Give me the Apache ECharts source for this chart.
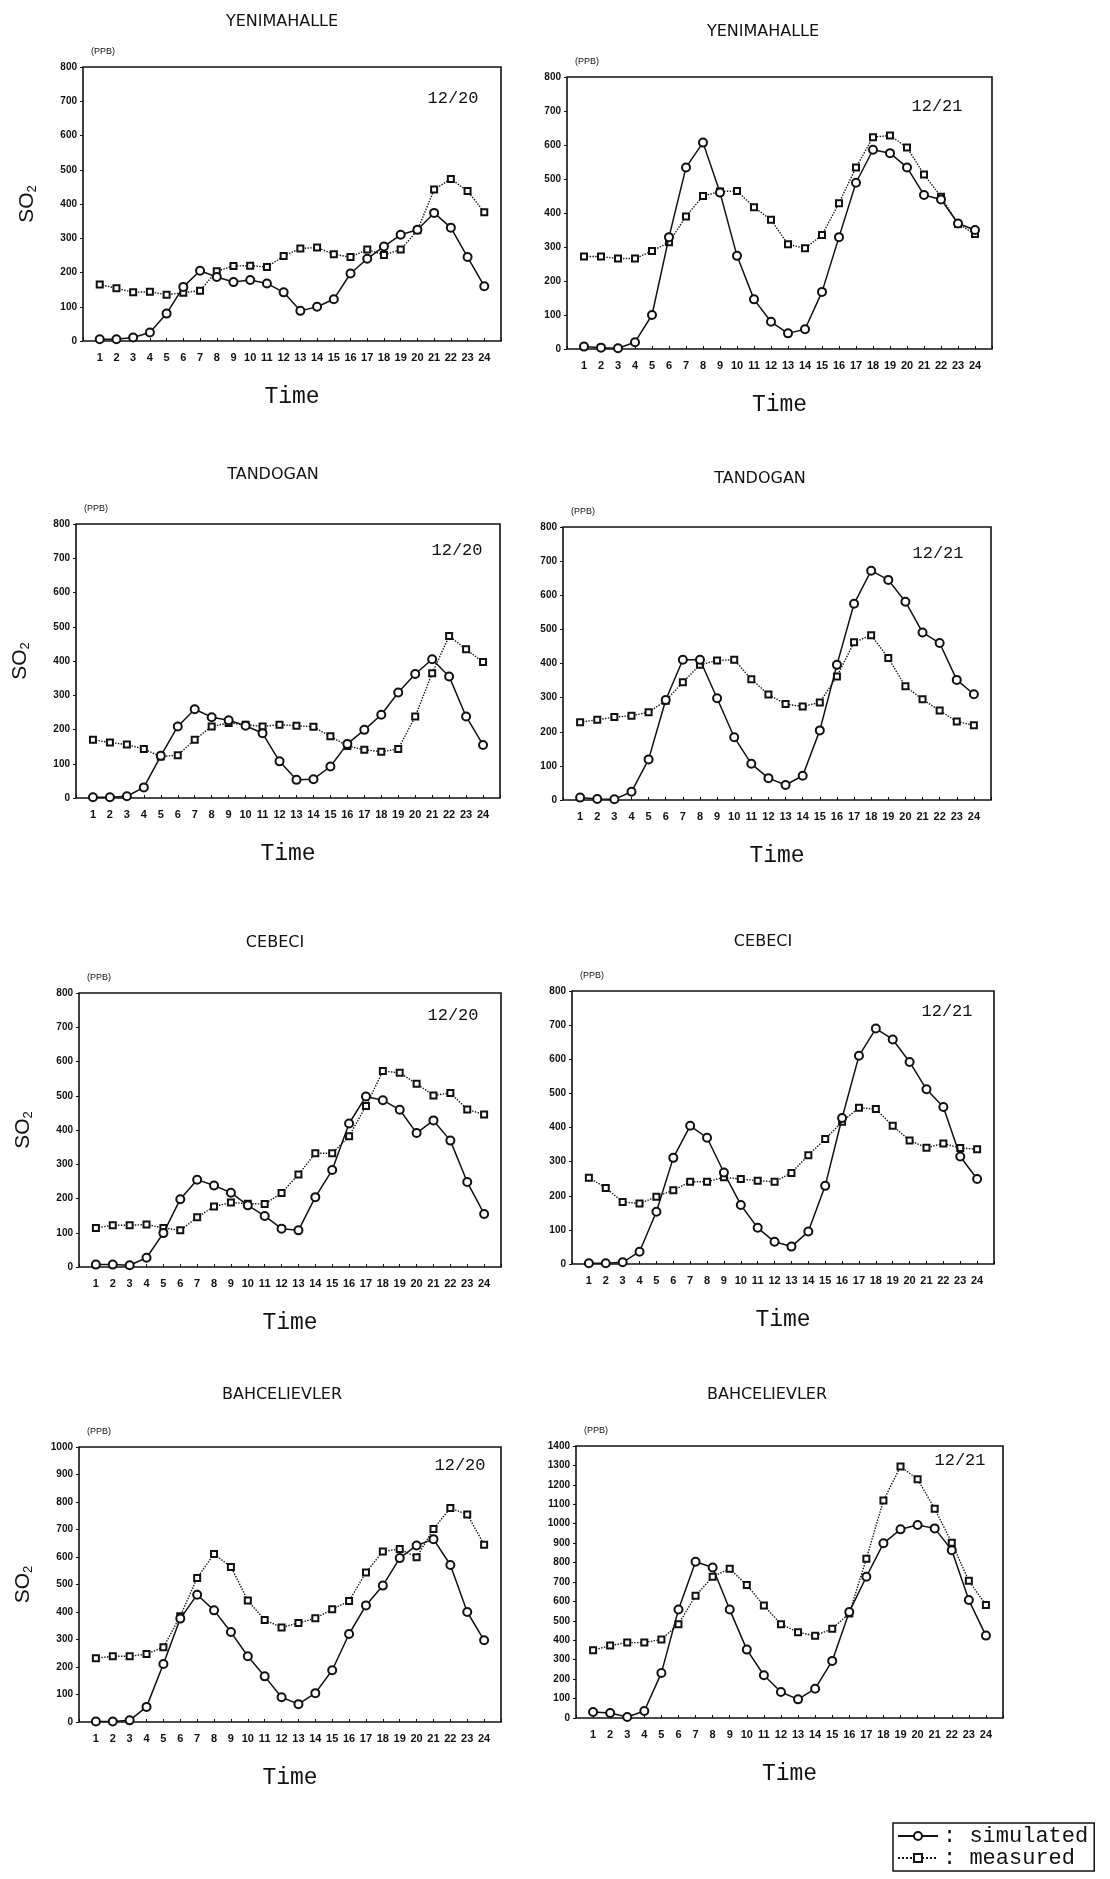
<!DOCTYPE html>
<html>
<head>
<meta charset="utf-8">
<title>SO2 simulated vs measured</title>
<script src="https://cdn.jsdelivr.net/npm/echarts@6/dist/echarts.min.js"></script>
<style>
html,body{margin:0;padding:0;background:#fff;}
#main{width:1110px;height:1879px;}
</style>
</head>
<body>
<div id="main"></div>
<script>
// hours of the day
var hours = [1,2,3,4,5,6,7,8,9,10,11,12,13,14,15,16,17,18,19,20,21,22,23,24];

// YENIMAHALLE
var yen20Sim  = [5,5,10,25,80,158,205,187,172,178,168,142,88,100,122,197,240,276,310,325,374,331,245,160];
var yen20Meas = [165,154,142,144,135,141,147,204,219,220,216,248,270,273,253,245,267,251,267,323,442,473,438,376];
var yen21Sim  = [7,4,2,20,100,329,534,607,460,274,146,80,46,58,168,329,489,586,576,534,453,440,369,350];
var yen21Meas = [272,272,266,266,288,314,390,450,463,465,417,380,308,296,335,429,534,623,628,593,513,448,368,338];

// TANDOGAN
var tan20Sim  = [2,2,5,31,123,209,259,236,227,211,189,107,53,55,92,158,199,243,308,362,405,355,238,155];
var tan20Meas = [170,162,156,143,121,125,170,209,219,214,209,214,211,208,180,152,141,135,143,238,364,473,434,397];
var tan21Sim  = [7,3,2,24,119,293,411,411,298,184,106,64,44,71,204,396,575,672,645,581,491,460,352,310];
var tan21Meas = [228,235,243,247,257,291,345,396,409,411,354,309,281,274,286,362,462,483,416,333,295,262,230,219];

// CEBECI
var ceb20Sim  = [7,7,5,27,99,198,255,238,217,180,149,112,107,204,283,419,498,487,459,391,428,369,248,155];
var ceb20Meas = [114,122,122,124,114,107,145,177,188,185,184,216,270,332,332,382,470,572,567,535,501,508,460,445];
var ceb21Sim  = [2,2,5,36,153,311,405,370,268,173,106,65,51,95,229,428,610,690,658,592,512,460,315,249];
var ceb21Meas = [253,223,182,177,197,216,241,241,254,249,244,241,267,319,366,417,458,454,405,362,341,353,340,336];

// BAHCELIEVLER
var bah20Sim  = [2,2,6,55,211,376,463,406,327,239,166,90,65,105,188,320,424,496,596,642,665,571,400,297];
var bah20Meas = [232,239,239,247,272,385,524,611,564,442,371,344,360,377,410,440,544,620,629,599,702,778,755,645];
var bah21Sim  = [31,26,5,36,232,558,804,775,558,352,220,134,96,151,294,546,727,899,971,993,976,864,607,424];
var bah21Meas = [349,373,388,388,404,483,629,727,768,684,579,483,442,423,460,538,820,1119,1294,1229,1077,902,706,582];

var panels = [
    {name:"YENIMAHALLE",  date:"12/20", sim:yen20Sim, meas:yen20Meas, max:800,  so2:true,
     grid:[83,67,418,274],  title:[282,22],  dateAt:[453,98]},
    {name:"YENIMAHALLE",  date:"12/21", sim:yen21Sim, meas:yen21Meas, max:800,  so2:false,
     grid:[567,77,425,272], title:[763,32],  dateAt:[937,106]},
    {name:"TANDOGAN",     date:"12/20", sim:tan20Sim, meas:tan20Meas, max:800,  so2:true,
     grid:[76,524,424,274], title:[273,475], dateAt:[457,550]},
    {name:"TANDOGAN",     date:"12/21", sim:tan21Sim, meas:tan21Meas, max:800,  so2:false,
     grid:[563,527,428,273],title:[760,479], dateAt:[938,553]},
    {name:"CEBECI",       date:"12/20", sim:ceb20Sim, meas:ceb20Meas, max:800,  so2:true,
     grid:[79,993,422,274], title:[275,943], dateAt:[453,1015]},
    {name:"CEBECI",       date:"12/21", sim:ceb21Sim, meas:ceb21Meas, max:800,  so2:false,
     grid:[572,991,422,273],title:[763,942], dateAt:[947,1011]},
    {name:"BAHCELIEVLER", date:"12/20", sim:bah20Sim, meas:bah20Meas, max:1000, so2:true,
     grid:[79,1447,422,275],title:[282,1395],dateAt:[460,1465]},
    {name:"BAHCELIEVLER", date:"12/21", sim:bah21Sim, meas:bah21Meas, max:1400, so2:false,
     grid:[576,1446,427,272],title:[767,1395],dateAt:[960,1460]}
];

function pairs(vals){
    var out=[];
    for(var i=0;i<hours.length;i++){
        out.push([hours[i],vals[i]]);
    }
    return out;
}

var ink="#111";
var grids=[],xAxes=[],yAxes=[],series=[],graphics=[];

for(var i=0;i<panels.length;i++){
    var p=panels[i];
    grids.push({
        left:p.grid[0], top:p.grid[1], width:p.grid[2], height:p.grid[3],
        show:true, borderColor:ink, borderWidth:1.6, backgroundColor:"transparent"
    });
    xAxes.push({
        type:"value", gridIndex:i, min:0, max:25, interval:1,
        splitLine:{show:false},
        axisLine:{show:false},
        axisTick:{show:true, inside:true, length:3, lineStyle:{color:ink}},
        axisLabel:{
            margin:11, fontSize:11, fontWeight:"bold", color:ink,
            fontFamily:"Liberation Sans",
            formatter:function(v){ return (v<1||v>24)?"":String(v); }
        },
        name:"Time", nameLocation:"middle", nameGap:44,
        nameTextStyle:{fontFamily:"Liberation Mono", fontSize:23, color:ink}
    });
    yAxes.push({
        type:"value", gridIndex:i, min:0, max:p.max, interval:100,
        splitLine:{show:false},
        axisLine:{show:false},
        axisTick:{show:true, length:3, lineStyle:{color:ink}},
        axisLabel:{
            margin:6, fontSize:10, fontWeight:"bold", color:ink, fontFamily:"Liberation Sans",
            formatter:function(v){ return String(v); }
        },
        name:p.so2?"SO{s|2}":"", nameLocation:"middle", nameRotate:90, nameGap:44,
        nameTextStyle:{
            fontFamily:"Liberation Sans", fontSize:21, color:ink,
            rich:{s:{fontFamily:"Liberation Sans", fontSize:13, color:ink, padding:[10,0,0,0]}}
        }
    });
    series.push({
        name:"simulated", type:"line", xAxisIndex:i, yAxisIndex:i,
        data:pairs(p.sim),
        symbol:"emptyCircle", symbolSize:8,
        lineStyle:{color:ink, width:1.5, type:"solid"},
        itemStyle:{color:ink, borderColor:ink, borderWidth:1.4},
        z:3, animation:false
    });
    series.push({
        name:"measured", type:"line", xAxisIndex:i, yAxisIndex:i,
        data:pairs(p.meas),
        symbol:"emptyRect", symbolSize:6,
        lineStyle:{color:ink, width:1.4, type:"dotted"},
        itemStyle:{color:ink, borderColor:ink, borderWidth:1.3},
        z:2, animation:false
    });
    // 站名
    graphics.push({
        type:"text", x:p.title[0], y:p.title[1],
        style:{text:p.name, fill:ink, font:"normal 16px 'DejaVu Sans'", textAlign:"center", textVerticalAlign:"middle"}
    });
    // 日期
    graphics.push({
        type:"text", x:p.dateAt[0], y:p.dateAt[1],
        style:{text:p.date, fill:ink, font:"normal 17px 'Liberation Mono'", textAlign:"center", textVerticalAlign:"middle"}
    });
    // 单位
    graphics.push({
        type:"text", x:p.grid[0]+20, y:p.grid[1]-15,
        style:{text:"(PPB)", fill:ink, font:"normal 9px 'Liberation Sans'", textAlign:"center", textVerticalAlign:"middle"}
    });
}

var chart=echarts.init(document.getElementById("main"));
chart.setOption({
    backgroundColor:"#fff",
    animation:false,
    grid:grids,
    xAxis:xAxes,
    yAxis:yAxes,
    series:series,
    graphic:graphics,
    legend:{
        data:["simulated","measured"],
        orient:"vertical", left:893, top:1823,
        borderColor:ink, borderWidth:1.5, padding:[2,6,2,4],
        itemGap:0, itemWidth:40, itemHeight:10,
        formatter:function(name){ return ": "+name; },
        textStyle:{fontFamily:"Liberation Mono", fontSize:22, lineHeight:20, color:ink},
        selectedMode:false
    }
});
</script>
</body>
</html>
